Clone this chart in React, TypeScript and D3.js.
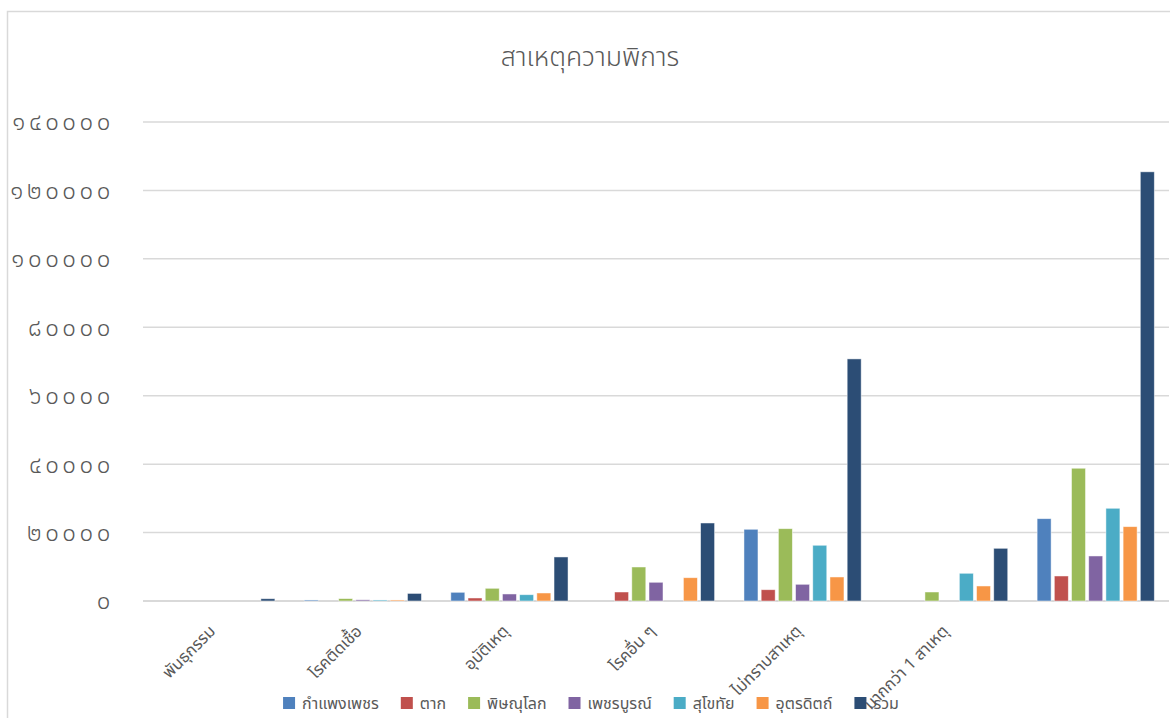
import React, { useEffect, useRef } from "react";
import * as d3 from "d3";

const categories = ["พันธุกรรม", "โรคติดเชื้อ", "อุบัติเหตุ", "โรคอื่น ๆ", "ไม่ทราบสาเหตุ", "มากกว่า 1 สาเหตุ", ""];
const seriesNames = ["กำแพงเพชร", "ตาก", "พิษณุโลก", "เพชรบูรณ์", "สุโขทัย", "อุตรดิตถ์", "รวม"];
const seriesColors = ["#4F81BD", "#C0504D", "#9BBB59", "#8064A2", "#4BACC6", "#F79646", "#2C4D75"];

const kamphaengphet = [0, 300, 2540, 0, 20960, 0, 24060];
const tak = [0, 0, 880, 2630, 3300, 0, 7310];
const phitsanulok = [0, 700, 3710, 9940, 21140, 2630, 38800];
const phetchabun = [0, 350, 2050, 5470, 4880, 0, 13160];
const sukhothai = [0, 300, 1840, 0, 16290, 8100, 27100];
const uttaradit = [0, 300, 2340, 6810, 7020, 4390, 21730];
const total = [670, 2220, 12870, 22800, 70760, 15400, 125440];

const seriesValues = [kamphaengphet, tak, phitsanulok, phetchabun, sukhothai, uttaradit, total];
const yTicks = [0, 20000, 40000, 60000, 80000, 100000, 120000, 140000];
const thaiDigits = ["๐", "๑", "๒", "๓", "๔", "๕", "๖", "๗", "๘", "๙"];
const toThai = (n: number) => String(n).replace(/[0-9]/g, (d) => thaiDigits[+d]);

const W = 1170;
const H = 718;
const FONT = "'Leelawadee UI', Tahoma, 'Noto Sans Thai', 'Noto Sans', sans-serif";

export default function App() {
  const ref = useRef<SVGSVGElement>(null);
  useEffect(() => {
    const svg = d3.select(ref.current);
    svg.selectAll("*").remove();
    const m = { left: 143, right: 1169, top: 122, bottom: 601 };

    svg.append("rect").attr("x", 7.5).attr("y", 11.5).attr("width", W).attr("height", H)
      .attr("fill", "#fff").attr("stroke", "#d9d9d9").attr("stroke-width", 1.5);

    svg.append("text").attr("x", 590).attr("y", 66).attr("text-anchor", "middle")
      .attr("font-size", 26.5).attr("font-weight", 300).attr("fill", "#595959").attr("font-family", FONT).text("สาเหตุความพิการ");

    const y = d3.scaleLinear().domain([0, 140000]).range([m.bottom, m.top]);
    const x0 = d3.scaleBand<string>().domain(categories.map((c, i) => String(i))).range([m.left, m.right]);
    const gw = x0.bandwidth();
    const inner = 120.4;
    const x1 = d3.scaleBand<string>().domain(seriesNames).range([(gw - inner) / 2, (gw + inner) / 2]).paddingInner(0.186).paddingOuter(0.093);

    const grid = svg.append("g");
    grid.selectAll("line").data(yTicks).join("line")
      .attr("x1", m.left).attr("x2", m.right)
      .attr("y1", (d) => y(d)).attr("y2", (d) => y(d))
      .attr("stroke", "#d9d9d9").attr("stroke-width", (d) => (d === 0 ? 2 : 1.5));

    svg.append("g").selectAll("text").data(yTicks).join("text")
      .attr("x", 114).attr("y", (d) => y(d)).attr("dy", "0.35em").attr("text-anchor", "end")
      .attr("font-size", 24).attr("font-weight", 300).attr("letter-spacing", 3.6)
      .attr("fill", "#595959").attr("font-family", FONT).text((d) => toThai(d));

    const groups = svg.append("g").selectAll("g").data(categories).join("g")
      .attr("transform", (_d, i) => `translate(${x0(String(i))},0)`);
    groups.selectAll("rect").data((_d, i) => seriesNames.map((s, k) => ({ s, k, v: seriesValues[k][i] })))
      .join("rect")
      .attr("x", (d) => x1(d.s)!).attr("width", x1.bandwidth())
      .attr("y", (d) => y(d.v)).attr("height", (d) => m.bottom - y(d.v))
      .attr("fill", (d) => seriesColors[d.k]).attr("stroke", "#fff").attr("stroke-opacity", 0.6).attr("stroke-width", 0.8);

    svg.append("g").selectAll("text").data(categories).join("text")
      .attr("transform", (_d, i) => `translate(${x0(String(i))! + gw / 2 - 8},624) rotate(-45)`)
      .attr("text-anchor", "end").attr("dy", "0.7em")
      .attr("font-size", 16.5).attr("fill", "#595959").attr("font-family", FONT).text((d) => d);

    const legend = svg.append("g");
    const ly = 703;
    const items: { g: any; w: number }[] = [];
    seriesNames.forEach((s, k) => {
      const g = legend.append("g");
      g.append("rect").attr("x", 0).attr("y", ly - 6).attr("width", 12).attr("height", 12).attr("fill", seriesColors[k]);
      const t = g.append("text").attr("x", 19).attr("y", ly).attr("dy", "0.35em")
        .attr("font-size", 16).attr("fill", "#595959").attr("font-family", FONT).text(s);
      const w = 19 + (t.node() as SVGTextElement).getComputedTextLength();
      items.push({ g, w });
    });
    const gap = 22;
    const totalW = items.reduce((a, it) => a + it.w, 0) + gap * (items.length - 1);
    let lx = 591 - totalW / 2;
    items.forEach((it) => {
      it.g.attr("transform", `translate(${lx},0)`);
      lx += it.w + gap;
    });
  }, []);
  return <svg ref={ref} width={W} height={H} style={{ display: "block", position: "absolute", left: 0, top: 0 }} />;
}
